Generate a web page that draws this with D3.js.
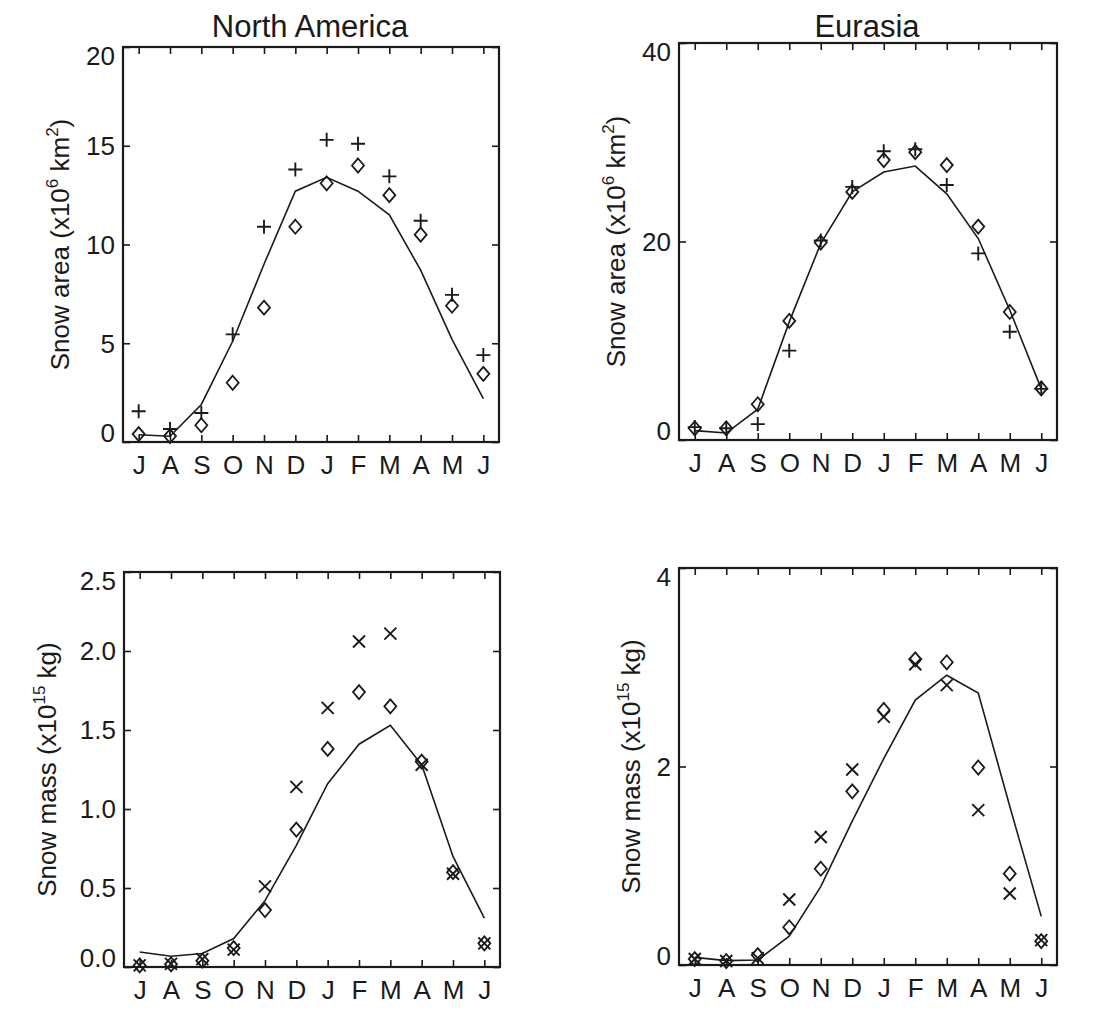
<!DOCTYPE html>
<html>
<head>
<meta charset="utf-8">
<script src="https://cdn.jsdelivr.net/npm/d3@7"></script>
<style>
  html, body { margin: 0; padding: 0; background: #ffffff; }
  svg { display: block; }
  text { font-family: "Liberation Sans", Arial, Helvetica, sans-serif; fill: #1a1a1a; }
</style>
</head>
<body>
<svg id="chart" width="1120" height="1010"></svg>
<script>
// ---------------- data ----------------
const months = ["J", "A", "S", "O", "N", "D", "J", "F", "M", "A", "M", "J"];

// North America snow area (x10^6 km^2)
const naAreaModel   = [0.37, 0.29, 1.9, 5.1, 9.0, 12.7, 13.4, 12.7, 11.5, 8.7, 5.2, 2.2];
const naAreaDiamond = [0.4, 0.3, 0.85, 3.0, 6.8, 10.9, 13.1, 14.0, 12.5, 10.5, 6.9, 3.45];
const naAreaPlus    = [1.56, 0.66, 1.47, 5.45, 10.9, 13.8, 15.3, 15.1, 13.45, 11.2, 7.45, 4.4];

// Eurasia snow area (x10^6 km^2)
const euAreaModel   = [0.94, 0.7, 3.1, 11.9, 19.8, 25.0, 27.0, 27.6, 24.8, 20.3, 13.1, 5.15];
const euAreaDiamond = [1.18, 1.18, 3.6, 12.0, 19.9, 25.0, 28.2, 29.0, 27.7, 21.5, 12.9, 5.2];
const euAreaPlus    = [1.3, 1.18, 1.6, 9.0, 20.1, 25.5, 29.1, 29.3, 25.7, 18.8, 10.9, 5.15];

// North America snow mass (x10^15 kg)
const naMassModel   = [0.095, 0.068, 0.085, 0.18, 0.42, 0.77, 1.16, 1.41, 1.53, 1.28, 0.70, 0.31];
const naMassDiamond = [0.01, 0.017, 0.04, 0.12, 0.36, 0.87, 1.38, 1.74, 1.65, 1.30, 0.60, 0.15];
const naMassCross   = [0.01, 0.02, 0.05, 0.11, 0.51, 1.14, 1.64, 2.06, 2.11, 1.28, 0.59, 0.15];

// Eurasia snow mass (x10^15 kg)
const euMassModel   = [0.077, 0.044, 0.05, 0.29, 0.79, 1.45, 2.08, 2.67, 2.92, 2.74, 1.60, 0.49];
const euMassDiamond = [0.06, 0.04, 0.1, 0.38, 0.97, 1.75, 2.57, 3.08, 3.05, 1.99, 0.92, 0.24];
const euMassCross   = [0.06, 0.04, 0.07, 0.66, 1.29, 1.97, 2.50, 3.03, 2.82, 1.56, 0.72, 0.25];

const naAreaTicks = [0, 5, 10, 15, 20];
const euAreaTicks = [0, 20, 40];
const naMassTicks = [0, 0.5, 1.0, 1.5, 2.0, 2.5];
const euMassTicks = [0, 2, 4];

const titles = ["North America", "Eurasia"];

// ---------------- layout ----------------
const panels = [
  { box: [123, 47, 499, 442], domain: [0, 20], ticks: naAreaTicks, fmt: d3.format("d"),
    model: naAreaModel, diamond: naAreaDiamond, other: naAreaPlus, otherType: "plus",
    ylab: "area", ylabX: 60, title: titles[0] },
  { box: [679, 43, 1057, 440], domain: [0, 40], ticks: euAreaTicks, fmt: d3.format("d"),
    model: euAreaModel, diamond: euAreaDiamond, other: euAreaPlus, otherType: "plus",
    ylab: "area", ylabX: 616, title: titles[1] },
  { box: [124, 572, 500, 967], domain: [0, 2.5], ticks: naMassTicks, fmt: d3.format(".1f"),
    model: naMassModel, diamond: naMassDiamond, other: naMassCross, otherType: "cross",
    ylab: "mass", ylabX: 47 },
  { box: [679, 568, 1057, 965], domain: [0, 4], ticks: euMassTicks, fmt: d3.format("d"),
    model: euMassModel, diamond: euMassDiamond, other: euMassCross, otherType: "cross",
    ylab: "mass", ylabX: 631 }
];

const ink = "#1a1a1a";
const svg = d3.select("#chart");

const symbols = {
  diamond: "M0,-7L6,0L0,7L-6,0Z",
  plus: "M-7,0H7M0,-7V7",
  cross: "M-6,-6L6,6M-6,6L6,-6"
};

panels.forEach(p => {
  const [x0, y0, x1, y1] = p.box;
  const idx = d3.range(months.length);
  const x = d3.scalePoint().domain(idx).range([x0, x1]).padding(0.5);
  const y = d3.scaleLinear().domain(p.domain).range([y1, y0]);

  const g = svg.append("g");

  // axes with inward ticks
  const left = g.append("g").attr("transform", `translate(${x0},0)`)
    .call(d3.axisLeft(y).tickValues(p.ticks).tickSizeInner(-7).tickSizeOuter(0)
      .tickPadding(8).tickFormat(p.fmt));
  const right = g.append("g").attr("transform", `translate(${x1},0)`)
    .call(d3.axisRight(y).tickValues(p.ticks).tickSizeInner(-7).tickSizeOuter(0).tickFormat(""));
  const bottom = g.append("g").attr("transform", `translate(0,${y1})`)
    .call(d3.axisBottom(x).tickSizeInner(-7).tickSizeOuter(0).tickPadding(14)
      .tickFormat(i => months[i]));
  const top = g.append("g").attr("transform", `translate(0,${y0})`)
    .call(d3.axisTop(x).tickSizeInner(-7).tickSizeOuter(0).tickFormat(""));

  [left, right, bottom, top].forEach(a => {
    a.select(".domain").remove();
    a.selectAll(".tick line").attr("stroke", ink).attr("stroke-width", 1.6);
  });
  left.selectAll(".tick text")
    .attr("font-size", 26).attr("fill", ink)
    .attr("dy", d => d === p.domain[1] ? "0.68em" : (d === p.domain[0] ? "-0.02em" : "0.34em"));
  bottom.selectAll(".tick text").attr("font-size", 26).attr("fill", ink);

  // frame
  g.append("rect").attr("x", x0).attr("y", y0).attr("width", x1 - x0).attr("height", y1 - y0)
    .attr("fill", "none").attr("stroke", ink).attr("stroke-width", 2.2);

  // model line
  const line = d3.line().x((d, i) => x(i)).y(d => y(d));
  g.append("path").datum(p.model).attr("d", line)
    .attr("fill", "none").attr("stroke", ink).attr("stroke-width", 1.6);

  // diamonds
  g.selectAll(".dia").data(p.diamond).join("path").attr("class", "dia")
    .attr("transform", (d, i) => `translate(${x(i)},${y(d)})`)
    .attr("d", symbols.diamond).attr("fill", "none").attr("stroke", ink).attr("stroke-width", 1.8);

  // plus / cross
  g.selectAll(".oth").data(p.other).join("path").attr("class", "oth")
    .attr("transform", (d, i) => `translate(${x(i)},${y(d)})`)
    .attr("d", symbols[p.otherType]).attr("fill", "none").attr("stroke", ink).attr("stroke-width", 1.9);

  // y label
  const cy = (y0 + y1) / 2;
  const t = g.append("text").attr("font-size", 26).attr("fill", ink)
    .attr("text-anchor", "middle")
    .attr("transform", `translate(${p.ylabX},${cy}) rotate(-90)`)
    .attr("dy", "0.35em");
  if (p.ylab === "area") {
    t.append("tspan").text("Snow area (x10");
    t.append("tspan").attr("font-size", 17).attr("dy", -11).text("6");
    t.append("tspan").attr("dy", 11).text(" km");
    t.append("tspan").attr("font-size", 17).attr("dy", -11).text("2");
    t.append("tspan").attr("dy", 11).text(")");
  } else {
    t.append("tspan").text("Snow mass (x10");
    t.append("tspan").attr("font-size", 17).attr("dy", -11).text("15");
    t.append("tspan").attr("dy", 11).text(" kg)");
  }

  if (p.title) {
    svg.append("text").attr("x", (x0 + x1) / 2 - 1).attr("y", 37)
      .attr("text-anchor", "middle").attr("font-size", 31).attr("fill", ink).text(p.title);
  }
});
</script>
</body>
</html>
